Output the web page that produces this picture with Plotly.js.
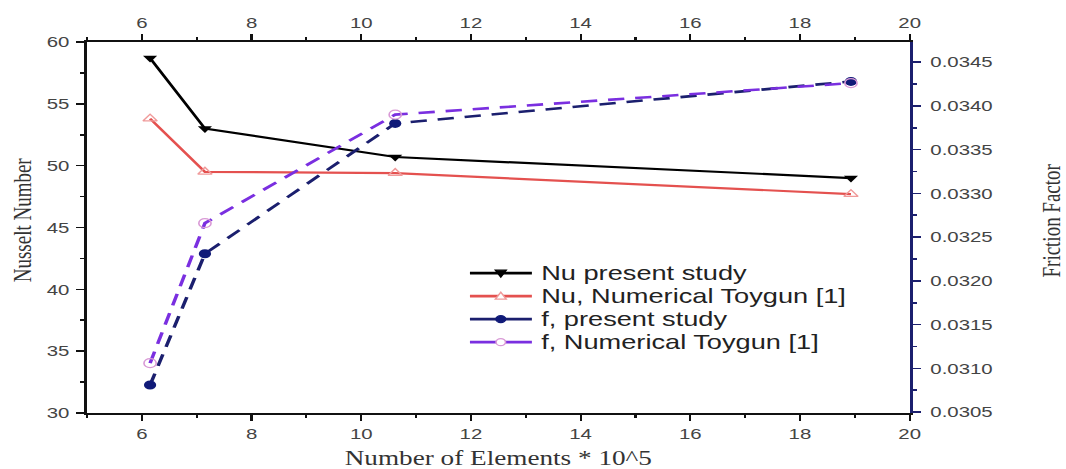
<!DOCTYPE html>
<html>
<head>
<meta charset="utf-8">
<script src="https://cdn.plot.ly/plotly-3.0.1.min.js"></script>
<style>
  html, body { margin: 0; padding: 0; background: #ffffff; overflow: hidden; }
  /* the figure is laid out narrow and widened horizontally */
  #chart { width: 784px; height: 469px; transform: scaleX(1.3597); transform-origin: 0 0; }
</style>
</head>
<body>
<div id="chart"></div>
<script>
// Mesh sizes (number of elements, in units of 10^5)
const elements = [6.15, 7.15, 10.62, 18.93];

// Nusselt number
const nuPresent = [58.7, 53.0, 50.7, 49.0];
const nuToygun = [53.8, 49.5, 49.4, 47.7];

// Friction factor
const fPresent = [0.03081, 0.03231, 0.03380, 0.03428];
const fToygun = [0.03106, 0.03266, 0.03390, 0.03426];

const seriesNames = [
  'Nu present study',
  'Nu, Numerical Toygun [1]',
  'f, present study',
  'f, Numerical Toygun [1]'
];

const navy = '#1b1f6e';
const textFamily = 'Liberation Sans, Arial, sans-serif';
const serifFamily = 'Liberation Serif, Times New Roman, serif';
const tickFont = { family: textFamily, size: 15, color: '#444444' };
const titleFont = { family: serifFamily, size: 19, color: '#333333' };

const styles = [
  { line: '#000000', dash: 'solid', width: 2.2,
    marker: { symbol: 'triangle-down', size: 9, color: '#000000' },
    key: { kind: 'tri-down', fill: '#000000', edge: '#000000' } },
  { line: '#e4514f', dash: 'solid', width: 2.2,
    marker: { symbol: 'triangle-up-open', size: 9, color: '#f09a9a', line: { width: 1.2 } },
    key: { kind: 'tri-up', fill: '#ffffff', edge: '#f09a9a' } },
  { line: navy, dash: '12px,8px', width: 2.6,
    marker: { symbol: 'circle', size: 9, color: '#101a78' },
    key: { kind: 'circle', fill: '#101a78', edge: '#101a78' } },
  { line: '#7a2fe0', dash: '12px,8px', width: 2.6,
    marker: { symbol: 'circle-open', size: 9, color: '#d99ad6', line: { width: 1.2 } },
    key: { kind: 'circle', fill: '#ffffff', edge: '#d99ad6' } }
];

const seriesY = [nuPresent, nuToygun, fPresent, fToygun];
// Nu curves: bottom/left axes; f curves: top/right axes (same x range)
const axisPairs = [['x', 'y'], ['x', 'y'], ['x2', 'y2'], ['x2', 'y2']];

const traces = seriesY.map((ys, i) => ({
  x: elements, y: ys, name: seriesNames[i],
  type: 'scatter', mode: 'lines+markers',
  line: { color: styles[i].line, width: styles[i].width, dash: styles[i].dash },
  marker: styles[i].marker,
  xaxis: axisPairs[i][0], yaxis: axisPairs[i][1],
  showlegend: false
}));

// Hand-built legend box (paper coordinates)
const keyRows = [0.377, 0.315, 0.253, 0.191];
const keyLineX = [0.4655, 0.5408];
const keyMarkX = 0.503;
const keyTextX = 0.5480;

const shapes = [];
const annotations = [];
seriesNames.forEach((name, i) => {
  const yy = keyRows[i];
  const st = styles[i];
  shapes.push({
    type: 'line', xref: 'paper', yref: 'paper',
    x0: keyLineX[0], x1: keyLineX[1], y0: yy, y1: yy,
    line: { color: st.line, width: 2.6 }
  });
  const base = {
    xref: 'paper', yref: 'paper',
    xsizemode: 'pixel', ysizemode: 'pixel',
    xanchor: keyMarkX, yanchor: yy,
    fillcolor: st.key.fill,
    line: { color: st.key.edge, width: 1.2 }
  };
  if (st.key.kind === 'circle') {
    shapes.push(Object.assign({ type: 'circle', x0: -3.5, x1: 3.5, y0: -3.5, y1: 3.5 }, base));
  } else if (st.key.kind === 'tri-down') {
    shapes.push(Object.assign({ type: 'path', path: 'M-4,3L4,3L0,-4Z' }, base));
  } else {
    shapes.push(Object.assign({ type: 'path', path: 'M-4,-3L4,-3L0,4Z' }, base));
  }
  annotations.push({
    xref: 'paper', yref: 'paper', x: keyTextX, y: yy,
    xanchor: 'left', yanchor: 'middle', showarrow: false,
    text: name,
    font: { family: textFamily, size: 20, color: '#222222' }
  });
});

// Vertical axis titles
annotations.push({
  xref: 'paper', yref: 'paper', x: -0.079, y: 0.52,
  xanchor: 'center', yanchor: 'middle', showarrow: false, textangle: -90,
  text: 'Nusselt Number', font: titleFont
});
annotations.push({
  xref: 'paper', yref: 'paper', x: 1.171, y: 0.52,
  xanchor: 'center', yanchor: 'middle', showarrow: false, textangle: -90,
  text: 'Friction Factor', font: titleFont
});

const xRange = [5, 20];

const xCommon = {
  range: xRange, dtick: 2, tick0: 0,
  showgrid: false, zeroline: false,
  showline: true, linecolor: '#111111', linewidth: 2,
  ticks: 'outside', ticklen: 6, tickwidth: 1.6, tickcolor: '#111111',
  minor: { dtick: 1, ticks: 'outside', ticklen: 3, tickwidth: 1.6, tickcolor: '#111111' },
  tickfont: tickFont
};

const layout = {
  width: 784,
  height: 469,
  margin: { l: 64, r: 115, t: 42, b: 56, pad: 0 },
  paper_bgcolor: '#ffffff',
  plot_bgcolor: '#ffffff',
  showlegend: false,
  shapes: shapes,
  annotations: annotations,
  xaxis: Object.assign({}, xCommon, {
    anchor: 'y',
    title: { text: 'Number of Elements * 10^5', font: { family: serifFamily, size: 20, color: '#333333' }, standoff: 10 }
  }),
  xaxis2: Object.assign({}, xCommon, {
    overlaying: 'x', side: 'top', anchor: 'y2'
  }),
  yaxis: {
    range: [30, 60], dtick: 5, anchor: 'x',
    showgrid: false, zeroline: false,
    showline: true, linecolor: '#111111', linewidth: 2,
    ticks: 'outside', ticklen: 6, tickwidth: 1.6, tickcolor: '#111111',
    minor: { dtick: 2.5, ticks: 'outside', ticklen: 3, tickwidth: 1.6, tickcolor: '#111111' },
    tickfont: tickFont, ticklabelstandoff: 2
  },
  yaxis2: {
    range: [0.03049, 0.03473], dtick: 0.0005, tick0: 0.0305,
    tickformat: '.4f',
    overlaying: 'y', side: 'right', anchor: 'x2',
    showgrid: false, zeroline: false,
    showline: true, linecolor: navy, linewidth: 2.2,
    ticks: 'outside', ticklen: 6, tickwidth: 1.6, tickcolor: navy,
    minor: { dtick: 0.00025, ticks: 'outside', ticklen: 3, tickwidth: 1.6, tickcolor: navy },
    tickfont: tickFont, ticklabelstandoff: 4
  }
};

Plotly.newPlot('chart', traces, layout, { displayModeBar: false, staticPlot: true });
</script>
</body>
</html>
